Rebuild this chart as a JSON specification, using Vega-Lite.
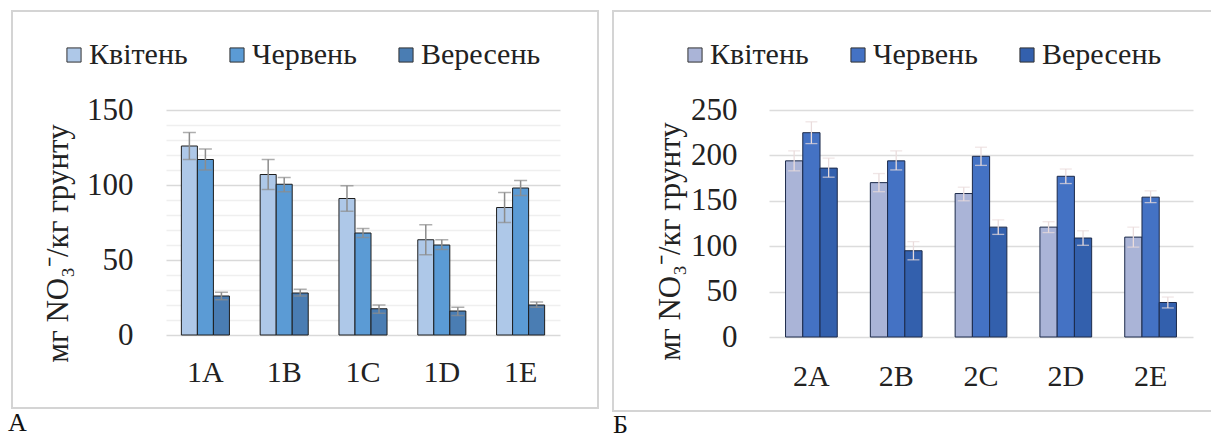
{
  "$schema": "https://vega.github.io/schema/vega-lite/v6.json",
  "padding": {"left": 7, "top": 10, "right": 0, "bottom": 0},
  "spacing": 13,
  "background": "white",
  "config": {
    "font": "Liberation Serif",
    "style": {"guide-label": {"font": "Liberation Serif"}, "guide-title": {"font": "Liberation Serif"}},
    "view": {"stroke": "#d4d4d4", "strokeWidth": 2},
    "axis": {"labelFont": "Liberation Serif", "titleFont": "Liberation Serif", "labelColor": "#222222", "titleColor": "#222222", "domain": false, "ticks": false, "titleFontWeight": "normal", "labelOverlap": false},
    "legend": {"labelFont": "Liberation Serif", "labelFontSize": 30, "labelColor": "#222222", "symbolType": "square", "symbolSize": 200, "symbolStrokeColor": "#333333", "symbolStrokeWidth": 1, "columnPadding": 34, "labelOffset": 0, "direction": "horizontal", "orient": "none", "title": null, "padding": 0},
    "title": {"font": "Liberation Serif", "fontWeight": "normal", "fontSize": 26, "color": "#111111"}
  },
  "resolve": {"scale": {"color": "independent", "x": "independent", "y": "independent", "xOffset": "independent"}, "legend": {"color": "independent"}},
  "datasets": {
    "a": [
      {"site": "1A", "month": "Квітень", "value": 126, "lo": 117, "hi": 135},
      {"site": "1A", "month": "Червень", "value": 117, "lo": 110, "hi": 124},
      {"site": "1A", "month": "Вересень", "value": 26, "lo": 23.5, "hi": 28.5},
      {"site": "1B", "month": "Квітень", "value": 107, "lo": 97, "hi": 117},
      {"site": "1B", "month": "Червень", "value": 100.5, "lo": 95.5, "hi": 105},
      {"site": "1B", "month": "Вересень", "value": 28, "lo": 26, "hi": 30.5},
      {"site": "1C", "month": "Квітень", "value": 91, "lo": 82.5, "hi": 99.5},
      {"site": "1C", "month": "Червень", "value": 68, "lo": 65, "hi": 71},
      {"site": "1C", "month": "Вересень", "value": 17.5, "lo": 14.5, "hi": 20},
      {"site": "1D", "month": "Квітень", "value": 63.5, "lo": 53.5, "hi": 73.5},
      {"site": "1D", "month": "Червень", "value": 60, "lo": 57, "hi": 63.5},
      {"site": "1D", "month": "Вересень", "value": 16, "lo": 13, "hi": 18.5},
      {"site": "1E", "month": "Квітень", "value": 85, "lo": 75, "hi": 95},
      {"site": "1E", "month": "Червень", "value": 98, "lo": 93, "hi": 103},
      {"site": "1E", "month": "Вересень", "value": 20, "lo": 18.5, "hi": 22}
    ],
    "b": [
      {"site": "2A", "month": "Квітень", "value": 194, "lo": 183, "hi": 205},
      {"site": "2A", "month": "Червень", "value": 225, "lo": 213, "hi": 237},
      {"site": "2A", "month": "Вересень", "value": 186, "lo": 176, "hi": 197},
      {"site": "2B", "month": "Квітень", "value": 170, "lo": 160, "hi": 180},
      {"site": "2B", "month": "Червень", "value": 194, "lo": 184, "hi": 205},
      {"site": "2B", "month": "Вересень", "value": 95, "lo": 85, "hi": 105},
      {"site": "2C", "month": "Квітень", "value": 158, "lo": 150, "hi": 165},
      {"site": "2C", "month": "Червень", "value": 199, "lo": 189, "hi": 209},
      {"site": "2C", "month": "Вересень", "value": 121, "lo": 113, "hi": 129},
      {"site": "2D", "month": "Квітень", "value": 121, "lo": 115, "hi": 127},
      {"site": "2D", "month": "Червень", "value": 177, "lo": 169, "hi": 185},
      {"site": "2D", "month": "Вересень", "value": 109, "lo": 101, "hi": 117},
      {"site": "2E", "month": "Квітень", "value": 110, "lo": 99, "hi": 121},
      {"site": "2E", "month": "Червень", "value": 154, "lo": 148, "hi": 161},
      {"site": "2E", "month": "Вересень", "value": 38, "lo": 32, "hi": 44}
    ]
  },
  "hconcat": [
    {
      "width": 586,
      "height": 397,
      "data": {"name": "a"},
      "title": {"text": "А", "orient": "bottom", "anchor": "start", "offset": 2, "dx": -4, "font": "Liberation Serif"},
      "encoding": {
        "x": {"field": "site", "type": "nominal", "sort": null,
          "scale": {"range": [154, 548], "paddingInner": 0.39, "paddingOuter": 0.195},
          "axis": {"title": null, "offset": -73, "labelPadding": 22, "labelFontSize": 30, "labelFont": "Liberation Serif", "labelAngle": 0, "grid": false}},
        "xOffset": {"field": "month", "type": "nominal", "sort": ["Квітень", "Червень", "Вересень"]}
      },
      "layer": [
        {
          "mark": {"type": "bar", "stroke": "#1e1e1e", "strokeWidth": 1},
          "encoding": {
            "y": {"field": "value", "type": "quantitative",
              "scale": {"domain": [0, 150], "range": [324, 99], "nice": false},
              "axis": {"values": [0, 10, 20, 30, 40, 50, 60, 70, 80, 90, 100, 110, 120, 130, 140, 150],
                "labelExpr": "datum.value % 50 === 0 ? datum.label : ''",
                "labelOverlap": false, "labelBound": false,
                "offset": -154, "labelPadding": 33, "labelFontSize": 31, "labelFont": "Liberation Serif",
                "gridColor": {"condition": {"test": "datum.value % 50 === 0", "value": "#d9d9d9"}, "value": "#efefef"},
                "gridWidth": 1.3,
                "title": "мг NO₃⁻/кг грунту", "titleFont": "Liberation Serif", "titleFontSize": 31, "titleAngle": 270,
                "titleX": -108, "titleY": 232, "titleAlign": "center", "titleBaseline": "middle"}},
            "color": {"field": "month", "type": "nominal", "sort": ["Квітень", "Червень", "Вересень"],
              "scale": {"domain": ["Квітень", "Червень", "Вересень"], "range": ["#aec8e8", "#5b9bd5", "#4a7db3"]},
              "legend": {"legendX": 47, "legendY": 29, "labelFont": "Liberation Serif"}}
          }
        },
        {
          "mark": {"type": "rule", "color": "#8c8c8c", "strokeWidth": 1.5},
          "encoding": {"y": {"field": "lo", "type": "quantitative",
              "axis": {"values": [0, 10, 20, 30, 40, 50, 60, 70, 80, 90, 100, 110, 120, 130, 140, 150],
                "labelExpr": "datum.value % 50 === 0 ? datum.label : ''",
                "labelOverlap": false, "labelBound": false,
                "offset": -154, "labelPadding": 33, "labelFontSize": 31, "labelFont": "Liberation Serif",
                "gridColor": {"condition": {"test": "datum.value % 50 === 0", "value": "#d9d9d9"}, "value": "#efefef"},
                "gridWidth": 1.3,
                "title": "мг NO₃⁻/кг грунту", "titleFont": "Liberation Serif", "titleFontSize": 31, "titleAngle": 270,
                "titleX": -108, "titleY": 232, "titleAlign": "center", "titleBaseline": "middle"}},
            "y2": {"field": "hi"}}
        },
        {
          "mark": {"type": "tick", "color": "#8c8c8c", "thickness": 1.5, "size": 13},
          "encoding": {"y": {"field": "lo", "type": "quantitative",
              "axis": {"values": [0, 10, 20, 30, 40, 50, 60, 70, 80, 90, 100, 110, 120, 130, 140, 150],
                "labelExpr": "datum.value % 50 === 0 ? datum.label : ''",
                "labelOverlap": false, "labelBound": false,
                "offset": -154, "labelPadding": 33, "labelFontSize": 31, "labelFont": "Liberation Serif",
                "gridColor": {"condition": {"test": "datum.value % 50 === 0", "value": "#d9d9d9"}, "value": "#efefef"},
                "gridWidth": 1.3,
                "title": "мг NO₃⁻/кг грунту", "titleFont": "Liberation Serif", "titleFontSize": 31, "titleAngle": 270,
                "titleX": -108, "titleY": 232, "titleAlign": "center", "titleBaseline": "middle"}}}
        },
        {
          "mark": {"type": "tick", "color": "#8c8c8c", "thickness": 1.5, "size": 13},
          "encoding": {"y": {"field": "hi", "type": "quantitative",
              "axis": {"values": [0, 10, 20, 30, 40, 50, 60, 70, 80, 90, 100, 110, 120, 130, 140, 150],
                "labelExpr": "datum.value % 50 === 0 ? datum.label : ''",
                "labelOverlap": false, "labelBound": false,
                "offset": -154, "labelPadding": 33, "labelFontSize": 31, "labelFont": "Liberation Serif",
                "gridColor": {"condition": {"test": "datum.value % 50 === 0", "value": "#d9d9d9"}, "value": "#efefef"},
                "gridWidth": 1.3,
                "title": "мг NO₃⁻/кг грунту", "titleFont": "Liberation Serif", "titleFontSize": 31, "titleAngle": 270,
                "titleX": -108, "titleY": 232, "titleAlign": "center", "titleBaseline": "middle"}}}
        }
      ]
    },
    {
      "width": 600,
      "height": 400,
      "data": {"name": "b"},
      "title": {"text": "Б", "orient": "bottom", "anchor": "start", "offset": 1, "dx": 0, "font": "Liberation Serif"},
      "encoding": {
        "x": {"field": "site", "type": "nominal", "sort": null,
          "scale": {"range": [156, 580], "paddingInner": 0.39, "paddingOuter": 0.195},
          "axis": {"title": null, "offset": -74, "labelPadding": 24, "labelFontSize": 30, "labelFont": "Liberation Serif", "labelAngle": 0, "grid": false}},
        "xOffset": {"field": "month", "type": "nominal", "sort": ["Квітень", "Червень", "Вересень"]}
      },
      "layer": [
        {
          "mark": {"type": "bar", "stroke": "#1c2a4a", "strokeWidth": 1},
          "encoding": {
            "y": {"field": "value", "type": "quantitative",
              "scale": {"domain": [0, 250], "range": [326, 99], "nice": false},
              "axis": {"values": [0, 50, 100, 150, 200, 250],
                "labelOverlap": false, "labelBound": false,
                "offset": -156, "labelPadding": 32, "labelFontSize": 31, "labelFont": "Liberation Serif",
                "gridColor": "#dcdcdc", "gridWidth": 1.3,
                "title": "мг NO₃⁻/кг грунту", "titleFont": "Liberation Serif", "titleFontSize": 31, "titleAngle": 270,
                "titleX": -99, "titleY": 230, "titleAlign": "center", "titleBaseline": "middle"}},
            "color": {"field": "month", "type": "nominal", "sort": ["Квітень", "Червень", "Вересень"],
              "scale": {"domain": ["Квітень", "Червень", "Вересень"], "range": ["#aab4d7", "#4472c4", "#3360ad"]},
              "legend": {"legendX": 67, "legendY": 29, "labelFont": "Liberation Serif"}}
          }
        },
        {
          "mark": {"type": "rule", "color": "#eadcdc", "strokeWidth": 1.3},
          "encoding": {"y": {"field": "lo", "type": "quantitative",
              "axis": {"values": [0, 50, 100, 150, 200, 250],
                "labelOverlap": false, "labelBound": false,
                "offset": -156, "labelPadding": 32, "labelFontSize": 31, "labelFont": "Liberation Serif",
                "gridColor": "#dcdcdc", "gridWidth": 1.3,
                "title": "мг NO₃⁻/кг грунту", "titleFont": "Liberation Serif", "titleFontSize": 31, "titleAngle": 270,
                "titleX": -99, "titleY": 230, "titleAlign": "center", "titleBaseline": "middle"}},
            "y2": {"field": "hi"}}
        },
        {
          "mark": {"type": "tick", "color": "#eadcdc", "thickness": 1.3, "size": 12},
          "encoding": {"y": {"field": "lo", "type": "quantitative",
              "axis": {"values": [0, 50, 100, 150, 200, 250],
                "labelOverlap": false, "labelBound": false,
                "offset": -156, "labelPadding": 32, "labelFontSize": 31, "labelFont": "Liberation Serif",
                "gridColor": "#dcdcdc", "gridWidth": 1.3,
                "title": "мг NO₃⁻/кг грунту", "titleFont": "Liberation Serif", "titleFontSize": 31, "titleAngle": 270,
                "titleX": -99, "titleY": 230, "titleAlign": "center", "titleBaseline": "middle"}}}
        },
        {
          "mark": {"type": "tick", "color": "#eadcdc", "thickness": 1.3, "size": 12},
          "encoding": {"y": {"field": "hi", "type": "quantitative",
              "axis": {"values": [0, 50, 100, 150, 200, 250],
                "labelOverlap": false, "labelBound": false,
                "offset": -156, "labelPadding": 32, "labelFontSize": 31, "labelFont": "Liberation Serif",
                "gridColor": "#dcdcdc", "gridWidth": 1.3,
                "title": "мг NO₃⁻/кг грунту", "titleFont": "Liberation Serif", "titleFontSize": 31, "titleAngle": 270,
                "titleX": -99, "titleY": 230, "titleAlign": "center", "titleBaseline": "middle"}}}
        }
      ]
    }
  ]
}
